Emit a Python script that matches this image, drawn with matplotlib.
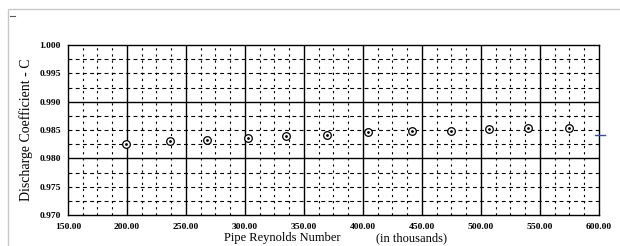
import numpy as np
import matplotlib
matplotlib.use("Agg")
import matplotlib.pyplot as plt
from matplotlib.patches import Rectangle

# --- data
reynolds = [199.2, 236.1, 268.1, 302.5, 334.7, 369.7, 404.2, 441.8, 474.6, 507.0, 539.8, 574.8]
coeff = [0.9825, 0.9831, 0.9833, 0.9836, 0.9840, 0.9842, 0.9846, 0.9849, 0.9849, 0.9852, 0.9853, 0.9854]
x_ticks = [150, 200, 250, 300, 350, 400, 450, 500, 550, 600]
y_ticks = [0.970, 0.975, 0.980, 0.985, 0.990, 0.995, 1.000]

plt.rcParams['font.family'] = ['Liberation Serif', 'DejaVu Serif']

fig = plt.figure(figsize=(6.2, 2.46), dpi=100)
ax = fig.add_axes([0.1097, 0.126, 0.856, 0.691])

ax.set_xlim(150, 600)
ax.set_ylim(0.970, 1.000)

# minor dashed grid
for xv in np.arange(150, 600, 12.5):
    if xv % 50 != 0:
        ax.axvline(xv, color='black', lw=0.8, ls=(0, (2, 3.5)), zorder=1)
for yv in np.arange(0.9725, 1.0, 0.0025):
    if round(yv * 1000) % 10 != 0:
        ax.axhline(yv, color='black', lw=0.8, ls=(0, (3.5, 3)), zorder=1)

# major solid grid
for xv in x_ticks[1:-1]:
    ax.axvline(xv, color='black', lw=1.0, zorder=2)
for yv in [0.980, 0.990]:
    ax.axhline(yv, color='black', lw=1.0, zorder=2)

ax.plot(reynolds, coeff, 'o', ms=5.5, mfc='white', mec='black', mew=0.9, zorder=3)
ax.plot(reynolds, coeff, '.', ms=2, color='black', zorder=4)

ax.set_xticks(x_ticks)
ax.set_xticklabels(['%.2f' % v for v in x_ticks], fontsize=6.8, fontweight='bold')
ax.set_yticks(y_ticks)
ax.set_yticklabels(['%.3f' % v for v in y_ticks], fontsize=6.8, fontweight='bold')
ax.tick_params(length=0)
ax.tick_params(axis='x', pad=5.5)
ax.tick_params(axis='y', pad=5)
for s in ax.spines.values():
    s.set_linewidth(1.0)

ax.set_ylabel('Discharge Coefficient - C', fontsize=10, labelpad=5)
fig.text(282 / 620, 1 - 238.5 / 246, 'Pipe Reynolds Number', fontsize=9, ha='center', va='center')
fig.text(411 / 620, 1 - 238.5 / 246, '(in thousands)', fontsize=9, ha='center', va='center')

# little blue mark on right edge
ax.plot([597, 605], [0.9842, 0.9842], color='#3050b0', lw=1.0, clip_on=False, zorder=5)

# page border and stray dash from the scan
fig.patches.append(Rectangle((8 / 620, -0.1), 1.0, 1 - 9 / 246 + 0.1, transform=fig.transFigure,
                             fill=False, ec='#c8c8c8', lw=1.0))
fig.add_artist(plt.Line2D([10 / 620, 15 / 620], [1 - 16 / 246, 1 - 16 / 246], color='#555555', lw=0.8))

fig.savefig('out.png', dpi=100)
